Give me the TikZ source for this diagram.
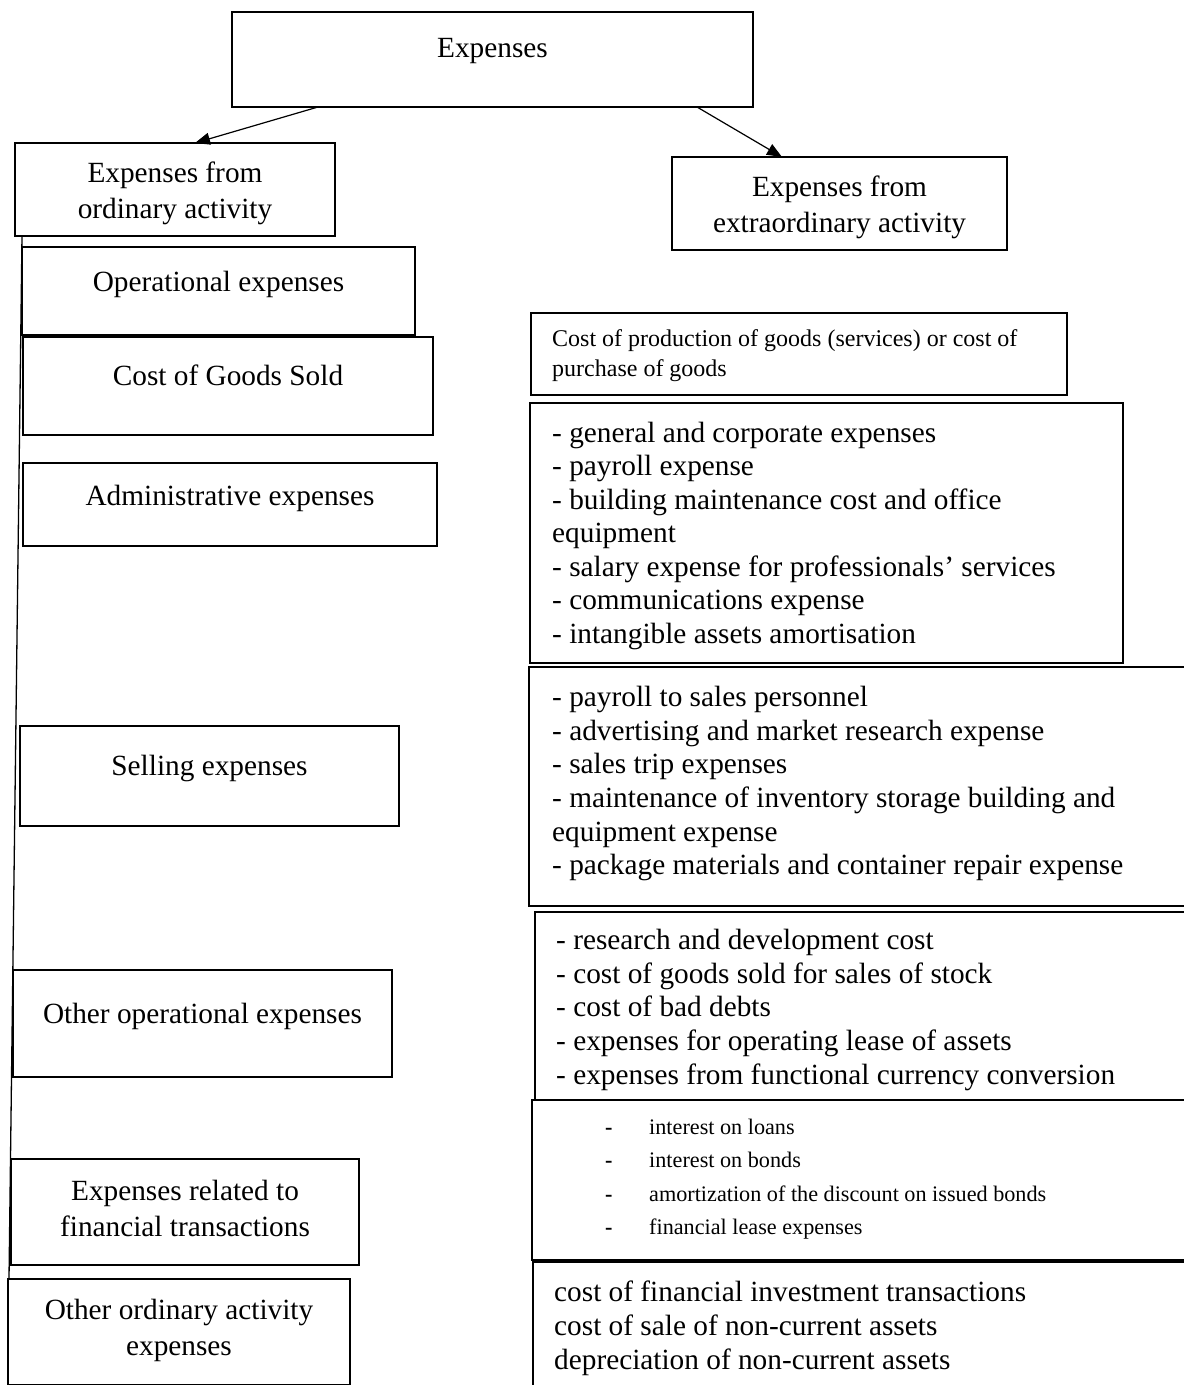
\documentclass[tikz,border=0pt]{standalone}
\usepackage{fontspec}
\setmainfont{Liberation Serif}
\usetikzlibrary{arrows.meta}

\begin{document}
\begin{tikzpicture}[x=1pt, y=-1pt,
    box/.style={draw, line width=2.4pt, anchor=north west, outer sep=0pt, inner sep=0pt},
    txt/.style={font=\fontsize{29.3}{36}\selectfont, inner sep=0pt, align=center},
    smalltxt/.style={font=\fontsize{24}{30}\selectfont, inner sep=0pt},
    fintxt/.style={font=\fontsize{22.2}{33.5}\selectfont, inner sep=0pt},
    link/.style={line width=1.2pt, -{Triangle[length=15pt,width=12pt]}}]
    \useasboundingbox (0,0) rectangle (1184,1385);

    % Top box
    \node[box, minimum width=521pt, minimum height=95pt] (exp) at (232,12) {};
    \node[txt, anchor=base] (expT) at (492.5,57.6) {Expenses};

    % Ordinary / extraordinary activity
    \node[box, minimum width=320pt, minimum height=93pt] (ord) at (15,143) {};
    \node[txt] (ordT) at (175,193.8) {Expenses from\\ordinary activity};
    \node[box, minimum width=335pt, minimum height=93pt] (ext) at (672,157) {};
    \node[txt] (extT) at (839.5,207.8) {Expenses from\\extraordinary activity};

    \draw[link] ([xshift=86pt]exp.south west) -- ([xshift=180pt]ord.north west);
    \draw[link] ([xshift=465pt]exp.south west) -- ([xshift=110pt]ext.north west);

    % Left column
    \foreach \n/\l/\t/\w/\h/\b/\s in {oper/22/247/393/88/291/Operational expenses,
        cogs/23/337/410/98/385/Cost of Goods Sold,
        adm/23/463/414/83/505/Administrative expenses,
        sell/20/726/379/100/775/Selling expenses,
        othop/13/970/379/107/1023/Other operational expenses} {
        \node[box, minimum width=\w pt, minimum height=\h pt] (\n) at (\l,\t) {};
        \node[txt, anchor=base] (\n T) at ({\l+\w/2},\b) {\s};
    }
    \node[box, minimum width=348pt, minimum height=106pt] (fin) at (11,1159) {};
    \node[txt] (finT) at (185,1208.8) {Expenses related to\\financial transactions};
    \node[box, minimum width=342pt, minimum height=106pt] (othord) at (8,1279) {};
    \node[txt] (othordT) at (179,1330.8) {Other ordinary activity\\expenses};

    \draw[line width=1.3pt] ([xshift=7pt]ord.south west) -- ([xshift=1pt]othord.north west);

    % Right column
    \node[box, minimum width=536pt, minimum height=82pt] (cpg) at (531,313) {};
    \node[smalltxt, anchor=base west] (cpg1) at (552,346) {Cost of production of goods (services) or cost of};
    \node[smalltxt, anchor=base west] (cpg2) at (552,376) {purchase of goods};

    \node[box, minimum width=593pt, minimum height=260pt] (gen) at (530,403) {};
    \foreach \s [count=\i] in {{- general and corporate expenses}, {- payroll expense},
        {- building maintenance cost and office}, equipment,
        {- salary expense for professionals’ services}, {- communications expense},
        {- intangible assets amortisation}}
        \node[txt, anchor=base west] (gen\i) at (552,{442.1+(\i-1)*33.5}) {\s};

    \node[box, minimum width=680pt, minimum height=239pt] (sel) at (529,667) {};
    \foreach \s [count=\i] in {{- payroll to sales personnel}, {- advertising and market research expense},
        {- sales trip expenses}, {- maintenance of inventory storage building and},
        {equipment expense}, {- package materials and container repair expense}}
        \node[txt, anchor=base west] (sel\i) at (552,{706.6+(\i-1)*33.6}) {\s};

    \node[box, minimum width=680pt, minimum height=188pt] (oth) at (535,912) {};
    \foreach \s [count=\i] in {{- research and development cost}, {- cost of goods sold for sales of stock},
        {- cost of bad debts}, {- expenses for operating lease of assets},
        {- expenses from functional currency conversion}}
        \node[txt, anchor=base west] (oth\i) at (556,{949.6+(\i-1)*33.6}) {\s};

    \node[box, minimum width=680pt, minimum height=160pt] (finl) at (532,1100) {};
    \foreach \s [count=\i] in {interest on loans, interest on bonds,
        amortization of the discount on issued bonds, financial lease expenses} {
        \node[fintxt, anchor=base west] (finD\i) at (605,{1134.5+(\i-1)*33.4}) {\textbf{-}};
        \node[fintxt, anchor=base west] (finL\i) at (649,{1134.5+(\i-1)*33.4}) {\s};
    }

    \node[box, minimum width=680pt, minimum height=200pt] (last) at (533,1262) {};
    \foreach \s [count=\i] in {cost of financial investment transactions,
        cost of sale of non-current assets, depreciation of non-current assets}
        \node[txt, anchor=base west] (last\i) at (554,{1301.6+(\i-1)*34}) {\s};
\end{tikzpicture}
\end{document}
